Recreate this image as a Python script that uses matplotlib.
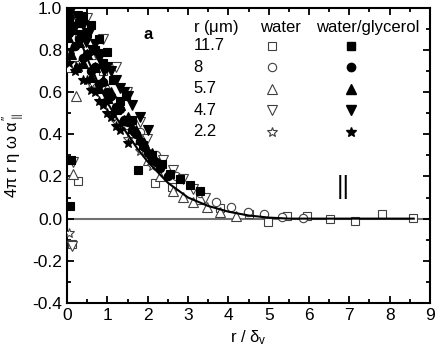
import matplotlib
matplotlib.use("Agg")
import matplotlib.pyplot as plt
from matplotlib.ticker import MultipleLocator

plt.rcParams['font.family'] = ['Liberation Sans', 'DejaVu Sans']
plt.rcParams['mathtext.fontset'] = 'custom'
plt.rcParams['mathtext.rm'] = 'Liberation Sans'
plt.rcParams['mathtext.it'] = 'Liberation Sans'

# theory curve
curve_x = [0, 0.25, 0.5, 0.75, 1.0, 1.25, 1.5, 1.75, 2.0, 2.5, 3.0, 3.5, 4.0, 4.5, 5.0, 5.5, 6, 7, 8, 8.6]
curve_y = [1.02, 0.88, 0.76, 0.65, 0.55, 0.47, 0.40, 0.33, 0.27, 0.17, 0.10, 0.06, 0.033, 0.015, 0.005, 0.0, 0.0, 0.0, 0.0, 0.0]

# water (open symbols)
w_sq_x = [0.12, 0.27, 0.9, 1.55, 2.18, 2.6, 3.3, 3.8, 4.5, 4.98, 5.45, 5.94, 6.53, 7.15, 7.82, 8.59]
w_sq_y = [-0.12, 0.18, 0.70, 0.46, 0.17, 0.15, 0.09, 0.05, 0.024, -0.015, 0.014, 0.014, 0.0, -0.01, 0.024, 0.005]
w_ci_x = [0.3, 0.7, 1.2, 1.8, 2.2, 2.7, 3.3, 3.7, 4.06, 4.48, 4.88, 5.32, 5.84]
w_ci_y = [0.86, 0.72, 0.56, 0.41, 0.30, 0.20, 0.12, 0.077, 0.057, 0.033, 0.02, 0.01, 0.005]
w_tu_x = [0.05, 0.1, 0.15, 0.22, 0.6, 1.0, 1.5, 2.0, 2.3, 2.62, 2.87, 3.12, 3.47, 3.79, 4.2]
w_tu_y = [0.72, 0.98, 0.21, 0.58, 0.78, 0.62, 0.45, 0.28, 0.20, 0.13, 0.105, 0.08, 0.057, 0.033, 0.014]
w_td_x = [0.12, 0.15, 0.5, 0.9, 1.2, 1.49, 1.81, 1.98, 2.38, 2.62, 2.87, 3.12, 3.42]
w_td_y = [-0.13, 0.27, 0.95, 0.85, 0.72, 0.60, 0.46, 0.38, 0.28, 0.23, 0.19, 0.14, 0.10]
w_st_x = [0.05, 0.3, 0.6, 0.9, 1.2, 1.5, 1.8, 2.1]
w_st_y = [-0.07, 0.74, 0.64, 0.55, 0.46, 0.38, 0.32, 0.25]

# water/glycerol (filled symbols)
g_sq_x = [0.08, 0.1, 0.3, 0.4, 0.5, 0.6, 0.7, 0.8, 0.9, 1.0, 1.15, 1.31, 1.45, 1.6, 1.76, 1.88, 2.1, 2.35, 2.55, 2.8, 3.04, 3.3]
g_sq_y = [0.06, 0.28, 0.93, 0.96, 0.88, 0.92, 0.80, 0.85, 0.74, 0.79, 0.66, 0.56, 0.58, 0.47, 0.23, 0.35, 0.30, 0.26, 0.21, 0.19, 0.16, 0.13]
g_ci_x = [0.05, 0.1, 0.2, 0.3, 0.4, 0.5, 0.6, 0.7, 0.8, 0.9, 1.0, 1.1, 1.2, 1.3, 1.4, 1.5, 1.6, 1.7, 1.8, 1.9, 2.0, 2.1, 2.2, 2.3, 2.5]
g_ci_y = [0.88, 0.92, 0.82, 0.85, 0.76, 0.78, 0.70, 0.72, 0.64, 0.65, 0.60, 0.58, 0.53, 0.52, 0.47, 0.46, 0.42, 0.40, 0.37, 0.34, 0.31, 0.28, 0.27, 0.24, 0.20]
g_tu_x = [0.02, 0.05, 0.1, 0.15, 0.22, 0.3, 0.4, 0.5, 0.6, 0.7, 0.8, 0.9, 1.0, 1.1, 1.2, 1.3, 1.4, 1.5, 1.6, 1.7, 1.8, 1.9, 2.1]
g_tu_y = [0.86, 0.98, 0.78, 0.90, 0.72, 0.84, 0.74, 0.78, 0.67, 0.72, 0.62, 0.66, 0.57, 0.60, 0.52, 0.54, 0.47, 0.48, 0.43, 0.42, 0.38, 0.36, 0.31]
g_td_x = [0.05, 0.1, 0.18, 0.25, 0.32, 0.4, 0.48, 0.55, 0.62, 0.7, 0.78, 0.85, 0.92, 1.0, 1.1, 1.2, 1.3, 1.4, 1.5, 1.6, 1.8, 2.0]
g_td_y = [0.93, 0.99, 0.90, 0.96, 0.87, 0.92, 0.84, 0.88, 0.80, 0.83, 0.76, 0.78, 0.70, 0.72, 0.70, 0.66, 0.62, 0.60, 0.58, 0.54, 0.48, 0.42]
g_st_x = [0.05, 0.1, 0.2, 0.3, 0.4, 0.5, 0.6, 0.7, 0.8, 0.9, 1.0, 1.1, 1.2, 1.3, 1.5]
g_st_y = [0.74, 0.80, 0.70, 0.72, 0.66, 0.66, 0.61, 0.60, 0.56, 0.54, 0.50, 0.48, 0.44, 0.42, 0.36]

radii = ['11.7', '8', '5.7', '4.7', '2.2']
markers = ['s', 'o', '^', 'v', '*']
water = [(w_sq_x, w_sq_y), (w_ci_x, w_ci_y), (w_tu_x, w_tu_y), (w_td_x, w_td_y), (w_st_x, w_st_y)]
glyc = [(g_sq_x, g_sq_y), (g_ci_x, g_ci_y), (g_tu_x, g_tu_y), (g_td_x, g_td_y), (g_st_x, g_st_y)]
sizes = [5.5, 6, 6.5, 6.5, 7.5]

fig = plt.figure(figsize=(4.36, 3.56), dpi=100)
ax = fig.add_axes([0.154, 0.149, 0.832, 0.829])

ax.axhline(0, color='#707070', lw=1.5, zorder=1)

for (x, y), m, s in zip(water, markers, sizes):
    ax.plot(x, y, ls='none', marker=m, ms=s, mfc='white', mec='#404040', mew=0.8, zorder=3)
for (x, y), m, s in zip(glyc, markers, sizes):
    ax.plot(x, y, ls='none', marker=m, ms=s, mfc='black', mec='black', mew=0.8, zorder=3)

ax.plot(curve_x, curve_y, color='black', lw=1.5, zorder=4)

# table-style legend
ax.text(3.13, 0.905, r'r ($\mu$m)', fontsize=12, va='center')
ax.text(5.3, 0.905, 'water', fontsize=12, va='center', ha='center')
ax.text(7.45, 0.905, 'water/glycerol', fontsize=12, va='center', ha='center')
for i, (r, m, s) in enumerate(zip(radii, markers, sizes)):
    yy = 0.82 - i * 0.102
    ax.text(3.13, yy, r, fontsize=12, va='center')
    ax.plot([5.08], [yy], marker=m, ms=s, mfc='white', mec='#404040', mew=0.8, clip_on=False)
    ax.plot([7.05], [yy], marker=m, ms=s, mfc='black', mec='black', clip_on=False)

ax.text(2.0, 0.875, 'a', fontsize=12, fontweight='bold', va='center', ha='center')
ax.text(6.86, 0.15, '||', fontsize=18, va='center', ha='center')

ax.set_xlim(0, 9)
ax.set_ylim(-0.4, 1.0)
ax.xaxis.set_major_locator(MultipleLocator(1))
ax.xaxis.set_minor_locator(MultipleLocator(0.5))
ax.yaxis.set_major_locator(MultipleLocator(0.2))
ax.yaxis.set_minor_locator(MultipleLocator(0.1))
ax.tick_params(which='both', direction='in', top=True, right=True, labelsize=12.5, width=1.3)
ax.tick_params(which='major', length=5)
ax.tick_params(which='minor', length=3)
ax.set_yticklabels(['%.1f' % v for v in ax.get_yticks()])
for sp in ax.spines.values():
    sp.set_linewidth(1.5)

ax.set_xlabel(r'r / $\delta_v$', fontsize=12)
ax.set_ylabel(r'4$\pi$ r $\eta$ $\omega$ $\alpha^{\prime\prime}_{\parallel}$', fontsize=12)

fig.savefig('out.png', dpi=100)
